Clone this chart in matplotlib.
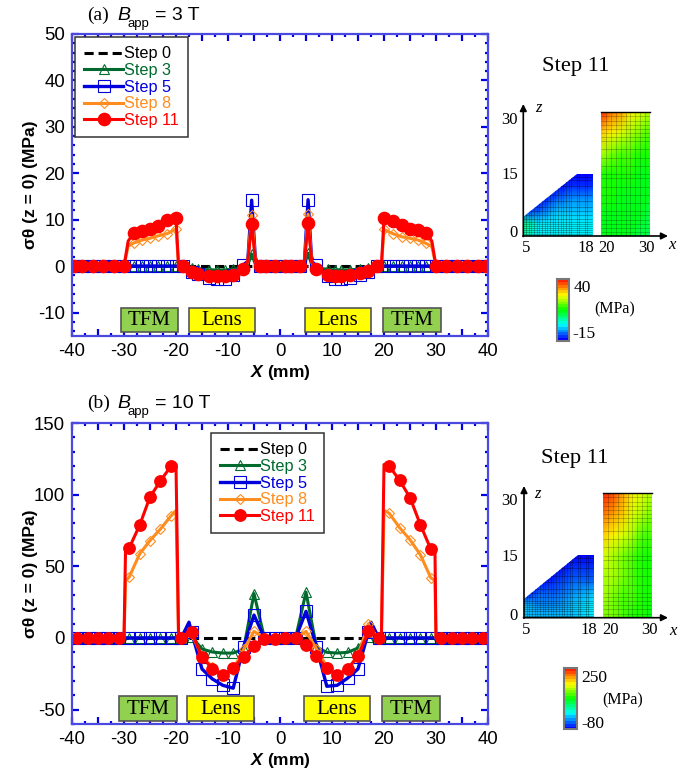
import numpy as np
import matplotlib
matplotlib.use('agg')
import matplotlib.pyplot as plt
from matplotlib.colors import LinearSegmentedColormap, Normalize
from matplotlib.cm import ScalarMappable
from matplotlib.patches import Rectangle, Polygon
from matplotlib.ticker import MultipleLocator, FuncFormatter

plt.rcParams['font.family'] = ['Liberation Sans', 'DejaVu Sans']
plt.rcParams['mathtext.fontset'] = 'custom'
plt.rcParams['mathtext.bfit'] = 'Liberation Sans:italic:bold'
plt.rcParams['axes.unicode_minus'] = False
SERIF = ['Liberation Serif', 'DejaVu Serif']

W, H = 700, 777

### panel (a), 3 T
a_x = [-39.7, -38.1, -35.9, -34, -32, -30, -29.2,
       -28.1, -26.6, -25, -23.5, -21.7, -20, -19.5,
       -18.6, -17, -15.7, -13.7, -12.2, -10.6, -9, -7.05,
       -6.2, -5.45, -4.7, -3.85, -2.6, -1,
       1, 2.2, 3.85, 4.7, 5.4, 6.1,
       6.9, 9.2, 10.5, 11.8, 13.5, 15.4, 17, 18.6,
       19.5, 20, 21.7, 23.5, 25, 26.6, 28.1, 29.2,
       30, 32, 34, 35.9, 38.1, 39.7]
a_nomark = [-29.2, -19.5, -6.2, -4.7, 4.7, 6.1, 19.5, 29.2]
a_s0 = [0]*56
a_s3 = [0, 0, 0, 0, 0, 0, 0,
        0, 0, 0, 0, 0, 0, 0,
        0, -.4, -.6, -.8, -.8, -.8, -.7, -.3,
        .3, 2.6, .3, 0, 0, 0,
        0, 0, 0, .3, 2.8, .3,
        -.3, -.7, -.8, -.8, -.8, -.6, -.4, 0,
        0, 0, 0, 0, 0, 0, 0, 0,
        0, 0, 0, 0, 0, 0]
a_s5 = [0, 0, 0, 0, 0, 0, 0,
        0, 0, 0, 0, 0, 0, 0,
        0, -1.3, -1.7, -2.6, -2.8, -2.7, -2, .3,
        1, 14.2, 1, 0, 0, 0,
        0, 0, 0, 1, 14.3, 1,
        .2, -2.1, -2.7, -2.8, -2.6, -1.8, -1.3, 0,
        0, 0, 0, 0, 0, 0, 0, 0,
        0, 0, 0, 0, 0, 0]
a_s8 = [0, 0, 0, 0, 0, 0, 4.3,
        5, 5.6, 6, 6.5, 7, 8, 0,
        0, -1.2, -1.5, -2, -2.2, -2.2, -1.9, -.7,
        .8, 11, .8, 0, 0, 0,
        0, 0, 0, .8, 11.2, .8,
        -.7, -1.9, -2.2, -2.2, -2, -1.5, -1.2, 0,
        0, 7.9, 7, 6.3, 6, 5.6, 4.9, 4.2,
        0, 0, 0, 0, 0, 0]
a_s11 = [0, 0, 0, 0, 0, 0, 5.4,
         7.2, 7.6, 8, 8.6, 9.9, 10.3, 0,
         0, -1.2, -1.6, -2.2, -2.2, -2.2, -1.9, -.7,
         1, 9, 1, 0, 0, 0,
         0, 0, 0, 1, 9.3, 1,
         -.6, -1.9, -2.2, -2.2, -2, -1.5, -1.1, 0,
         0, 10.3, 9.8, 8.8, 8.1, 7.8, 7.2, 5.4,
         0, 0, 0, 0, 0, 0]

### panel (b), 10 T
b_x = [-39, -37, -35, -33, -31, -30, -29.7,
       -29, -27, -25, -23, -21, -20, -19.5,
       -19, -17.5, -17, -15, -13, -11, -9, -7, -5, -3, -1,
       1, 3, 5, 7, 9, 11, 13, 15, 17, 17.5, 19,
       19.5, 20, 21, 23, 25, 27, 29, 29.8,
       30, 31, 33, 35, 37, 39]
b_nomark = [-30, -29.7, -20, -19.5, -17.5, 17.5, 19.5, 20, 29.8, 30]
b_s0 = [0]*50
b_s3 = [0, 0, 0, 0, 0, 0, 0,
        0, 0, 0, 0, 0, 0, 0,
        0, 3, 1, -7.7, -9.8, -10.5, -10.5, -7.7, 31, 0, 0,
        0, 0, 32, -6.3, -10, -10.5, -10, -7, 1, 3, 0,
        0, 0, 0, 0, 0, 0, 0, 0,
        0, 0, 0, 0, 0, 0]
b_s5 = [0, 0, 0, 0, 0, 0, 0,
        0, 0, 0, 0, 0, 0, 0,
        0, 11, 4, -21.6, -28.6, -33, -35, -6, 16, 0, 0,
        0, 0, 18.6, -6, -33.7, -33, -28, -21.6, 4, 11, 0,
        0, 0, 0, 0, 0, 0, 0, 0,
        0, 0, 0, 0, 0, 0]
b_s8 = [0, 0, 0, 0, 0, 0, 40,
        42.5, 58.6, 68, 76, 85, 89, 0,
        0, 4, 3, -13, -20, -26, -22, -8, 4.6, 0, 0,
        0, 0, 4.6, -7.4, -20, -26, -22, -12, 10, 6, 0,
        0, 89, 87, 77, 68.6, 58, 42, 40,
        0, 0, 0, 0, 0, 0]
b_s11 = [0, 0, 0, 0, 0, 0, 62,
         62.8, 78.6, 98.4, 109.5, 119.8, 121, 0,
         0, 4, 4, -13, -21.6, -26, -21, -13, -5.8, -.5, -1,
         0, 0, -4.6, -12.8, -21, -26, -21.6, -12.8, 4.6, 4, 0,
         0, 121, 120, 110, 98, 79, 62, 61,
         0, 0, 0, 0, 0, 0]

steps = ['Step 0', 'Step 3', 'Step 5', 'Step 8', 'Step 11']
colors = ['black', '#006a2e', '#0000dc', '#ff8c1e', '#ff0000']

### insets: grids of stress (MPa), rows from z = 0 upward
tfm_xg = [20, 22, 24, 26, 28, 30]
tfm_zg = [0, 5, 10, 15, 20, 25, 30]
lens_xg = [5, 8, 11, 14, 18]
lens_zg = [0, 3, 6, 9, 12, 15]

a_tfm = [[12, 12, 11, 10, 9, 8],
         [12, 12, 11, 11, 10, 9],
         [13, 13, 12, 12, 11, 10],
         [14, 14, 13, 13, 12, 12],
         [20, 18, 16, 15, 14, 13],
         [29, 27, 24, 21, 18, 16],
         [40, 34, 30, 26, 23, 20]]
a_lens = [[4, -1, -1, -1, -1],
          [5, -2, -2, -2, -2],
          [-12, -9, -4, -4, -4],
          [-15, -15, -9, -7, -7],
          [-15, -15, -15, -12, -11],
          [-15, -15, -15, -15, -15]]
b_tfm = [[125, 120, 110, 95, 85, 80],
         [130, 125, 110, 100, 90, 85],
         [140, 130, 115, 100, 90, 85],
         [150, 140, 125, 110, 95, 88],
         [175, 165, 150, 130, 110, 100],
         [210, 195, 175, 150, 130, 115],
         [250, 225, 195, 170, 150, 135]]
b_lens = [[-10, -20, -20, -10, 5],
          [-12, -30, -25, -18, -5],
          [-80, -50, -38, -28, -18],
          [-80, -75, -60, -50, -40],
          [-80, -80, -75, -65, -60],
          [-80, -80, -80, -80, -80]]

lens_outline = [(5, 0), (5, 4.5), (15, 15), (18, 15), (18, 0)]
lens_vlines = [5.5, 6, 6.5, 7, 7.5, 8, 8.5, 9, 9.5, 10, 10.5, 11, 11.5, 12, 12.5, 13, 13.5, 14, 15, 15.5, 16.5, 17]
lens_hlines = [.5, 1, 1.5, 2, 2.5, 3, 3.5, 4, 5, 6, 7, 8.5, 10, 12, 13.5, 14.3]
tfm_vlines = [21, 22, 23, 24, 25, 26, 27, 28, 29]
tfm_hlines = [1, 2, 3, 4, 5, 6, 8, 10, 12, 14, 15, 17, 19, 21, 23, 24, 25, 26, 27, 28, 29]

fem_cmap = LinearSegmentedColormap.from_list(
    'fem', ['#0000ff', '#00ffff', '#00ff00', '#ffff00', '#ff2000'], N=22)

fig = plt.figure(figsize=(7.0, 7.77), dpi=100)


def px_axes(left, top, right, bottom, **kw):
    return fig.add_axes([left/W, 1-bottom/H, (right-left)/W, (bottom-top)/H], **kw)


def px_fig(x, y):
    return x/W, 1-y/H


def draw_panel(box, ylim, ymaj, ymin, x, nomark, series, ms, legend_xy):
    ax = px_axes(*box)
    mk = [i for i, v in enumerate(x) if v not in nomark]
    ax.plot(x, series[0], ls=(0, (3, 1.6)), lw=2.2, color=colors[0], label=steps[0], zorder=1.9)
    ax.plot(x, series[1], '-', lw=2.2, color=colors[1], marker='^', mfc='none', mew=.8, ms=ms[0], markevery=mk, label=steps[1])
    ax.plot(x, series[2], '-', lw=2.4, color=colors[2], marker='s', mfc='none', mew=.8, ms=ms[1], markevery=mk, label=steps[2])
    ax.plot(x, series[3], '-', lw=2.2, color=colors[3], marker='D', mfc='none', mew=.8, ms=ms[2], markevery=mk, label=steps[3])
    ax.plot(x, series[4], '-', lw=2.2, color=colors[4], marker='o', ms=ms[3], markevery=mk, label=steps[4])
    ax.set_xlim(-40, 40)
    ax.set_ylim(*ylim)
    ax.xaxis.set_major_locator(MultipleLocator(5))
    ax.xaxis.set_minor_locator(MultipleLocator(2.5))
    ax.xaxis.set_major_formatter(FuncFormatter(lambda v, p: '%d' % v if v % 10 == 0 else ''))
    ax.yaxis.set_major_locator(MultipleLocator(ymaj))
    ax.yaxis.set_minor_locator(MultipleLocator(ymin))
    ax.tick_params(which='major', direction='in', length=4.8, width=1.6, color='#0000e0',
                   top=True, right=True, labelsize=13.4, pad=5)
    ax.tick_params(which='minor', direction='in', length=2.4, width=1.6, color='#0000e0', top=True, right=True)
    for s in ax.spines.values():
        s.set_color('#4a4ae0')
        s.set_linewidth(1.6)
    ax.set_xlabel(r'$\boldsymbol{X}$ (mm)', fontsize=12.5, fontweight='bold', labelpad=2)
    ax.set_ylabel('σθ (z = 0) (MPa)', fontsize=12.5, fontweight='bold')
    ax.yaxis.set_label_coords(-0.082, 0.5)
    leg = ax.legend(loc='upper left', bbox_to_anchor=px_fig(*legend_xy), bbox_transform=fig.transFigure,
                    borderaxespad=0, fancybox=False, framealpha=1, edgecolor='#333333', fontsize=11.7,
                    labelcolor='linecolor', handlelength=2.35, handletextpad=.06, labelspacing=.1,
                    borderpad=.58)
    leg.get_frame().set_linewidth(1.1)
    leg.set_zorder(5)
    return ax


def draw_inset(lens_box, tfm_box, lens_vals, tfm_vals, vmin, vmax):
    norm = Normalize(vmin, vmax)
    ax = px_axes(*lens_box)
    m = ax.pcolormesh(lens_xg, lens_zg, lens_vals, shading='gouraud', cmap=fem_cmap, norm=norm)
    ax.vlines(lens_vlines, 0, 15, color='black', lw=.5, alpha=.4).set_clip_path(
        Polygon(lens_outline, transform=ax.transData))
    ax.hlines(lens_hlines, 5, 18, color='black', lw=.5, alpha=.4).set_clip_path(
        Polygon(lens_outline, transform=ax.transData))
    m.set_clip_path(Polygon(lens_outline, transform=ax.transData))
    ax.set_xlim(5, 18)
    ax.set_ylim(0, 15)
    ax.axis('off')
    ax = px_axes(*tfm_box)
    ax.pcolormesh(tfm_xg, tfm_zg, tfm_vals, shading='gouraud', cmap=fem_cmap, norm=norm)
    ax.vlines(tfm_vlines, 0, 30, color='black', lw=.5, alpha=.3)
    ax.hlines(tfm_hlines, 20, 30, color='black', lw=.5, alpha=.3)
    ax.plot([20, 30], [30, 30], color='black', lw=1, clip_on=False)
    ax.set_xlim(20, 30)
    ax.set_ylim(0, 30)
    ax.axis('off')
    return norm


def draw_cbar(box, norm):
    cax = px_axes(*box)
    cb = fig.colorbar(ScalarMappable(norm=norm, cmap=fem_cmap), cax=cax, ticks=[])
    cb.outline.set_edgecolor('#777777')
    cb.outline.set_linewidth(1.5)


draw_panel((72, 34, 488, 335.8), (-15, 50), 10, 2, a_x, a_nomark,
           [a_s0, a_s3, a_s5, a_s8, a_s11], (6.5, 8, 5.6, 8.8), (75, 37))
draw_panel((72, 423, 488, 724), (-60, 150), 50, 10, b_x, b_nomark,
           [b_s0, b_s3, b_s5, b_s8, b_s11], (6.5, 8, 5.6, 8.2), (211, 433))

norm_a = draw_inset((523.3, 174, 592.7, 236), (601, 112.3, 650, 236), a_lens, a_tfm, -15, 40)
norm_b = draw_inset((524, 555.3, 593.7, 617.7), (603, 493.3, 652, 617.7), b_lens, b_tfm, -80, 250)
draw_cbar((556.7, 279.3, 569.3, 340.7), norm_a)
draw_cbar((564.3, 668, 577.3, 729.3), norm_b)

### everything placed by pixel goes on a transparent layer
ov = fig.add_axes([0, 0, 1, 1], facecolor='none', zorder=10)
ov.set_xlim(0, W)
ov.set_ylim(H, 0)
ov.axis('off')


def box(x0, x1, y0, y1, color, label):
    ov.add_patch(Rectangle((x0, y0), x1-x0, y1-y0, fc=color, ec='#555555', lw=1.2))
    ov.text((x0+x1)/2, (y0+y1)/2+.5, label, ha='center', va='center', family=SERIF, fontsize=15)


GREEN, YELLOW = '#92d050', '#ffff00'
box(120.7, 178.3, 307.7, 332.3, GREEN, 'TFM')
box(188.7, 255, 307.7, 332.3, YELLOW, 'Lens')
box(305, 371.3, 307.7, 332.3, YELLOW, 'Lens')
box(383.3, 441, 307.7, 332.3, GREEN, 'TFM')
box(119, 177, 696, 721, GREEN, 'TFM')
box(187.3, 253.7, 696, 721, YELLOW, 'Lens')
box(303.7, 370.3, 696, 721, YELLOW, 'Lens')
box(381.7, 440, 696, 721, GREEN, 'TFM')


def heading(y, tag, tail):
    ov.text(87, y, tag, family=SERIF, fontsize=14, va='baseline')
    ov.text(117, y, 'B', fontsize=14, style='italic', va='baseline')
    ov.text(128, y+7, 'app', fontsize=9.5, va='baseline')
    ov.text(155, y, tail, fontsize=14, va='baseline')


heading(20, '(a)', '= 3 T')
heading(408, '(b)', '= 10 T')


def arrows(x0, y0, ytop, xend):
    ov.annotate('', xy=(x0, ytop), xytext=(x0, y0+.5),
                arrowprops=dict(arrowstyle='-|>', color='black', lw=1.2, shrinkA=0, shrinkB=0))
    ov.annotate('', xy=(xend, y0), xytext=(x0-.5, y0),
                arrowprops=dict(arrowstyle='-|>', color='black', lw=1.2, shrinkA=0, shrinkB=0))


def serif(x, y, s, size=12, ha='center', **kw):
    ov.text(x, y, s, family=SERIF, fontsize=size, ha=ha, va='center', **kw)


arrows(523.3, 236, 104, 668)
serif(576, 67, 'Step 11', 16.2)
serif(538, 108, 'z', style='italic')
serif(672, 245, 'x', style='italic')
for xp, s in [(526, '5'), (586, '18'), (606.5, '20'), (646, '30')]:
    serif(xp, 248.5, s)
for yp, s in [(120, '30'), (175, '15'), (233, '0')]:
    serif(518, yp, s, ha='right')
serif(574, 288.5, '40', 12.5, ha='left')
serif(594, 309, '(MPa)', 11.5, ha='left')
serif(572, 334.5, '-15', 12.5, ha='left')

arrows(524, 617.7, 486, 668)
serif(575, 458, 'Step 11', 16.2)
serif(537, 494, 'z', style='italic')
serif(673, 631, 'x', style='italic')
for xp, s in [(526, '5'), (589, '18'), (610.5, '20'), (649, '30')]:
    serif(xp, 630, s)
for yp, s in [(501, '30'), (557, '15'), (616, '0')]:
    serif(518, yp, s, ha='right')
serif(581, 678, '250', 12.5, ha='left')
serif(602, 700, '(MPa)', 11.5, ha='left')
serif(581, 724, '-80', 12.5, ha='left')

fig.savefig('out.png', dpi=100)
